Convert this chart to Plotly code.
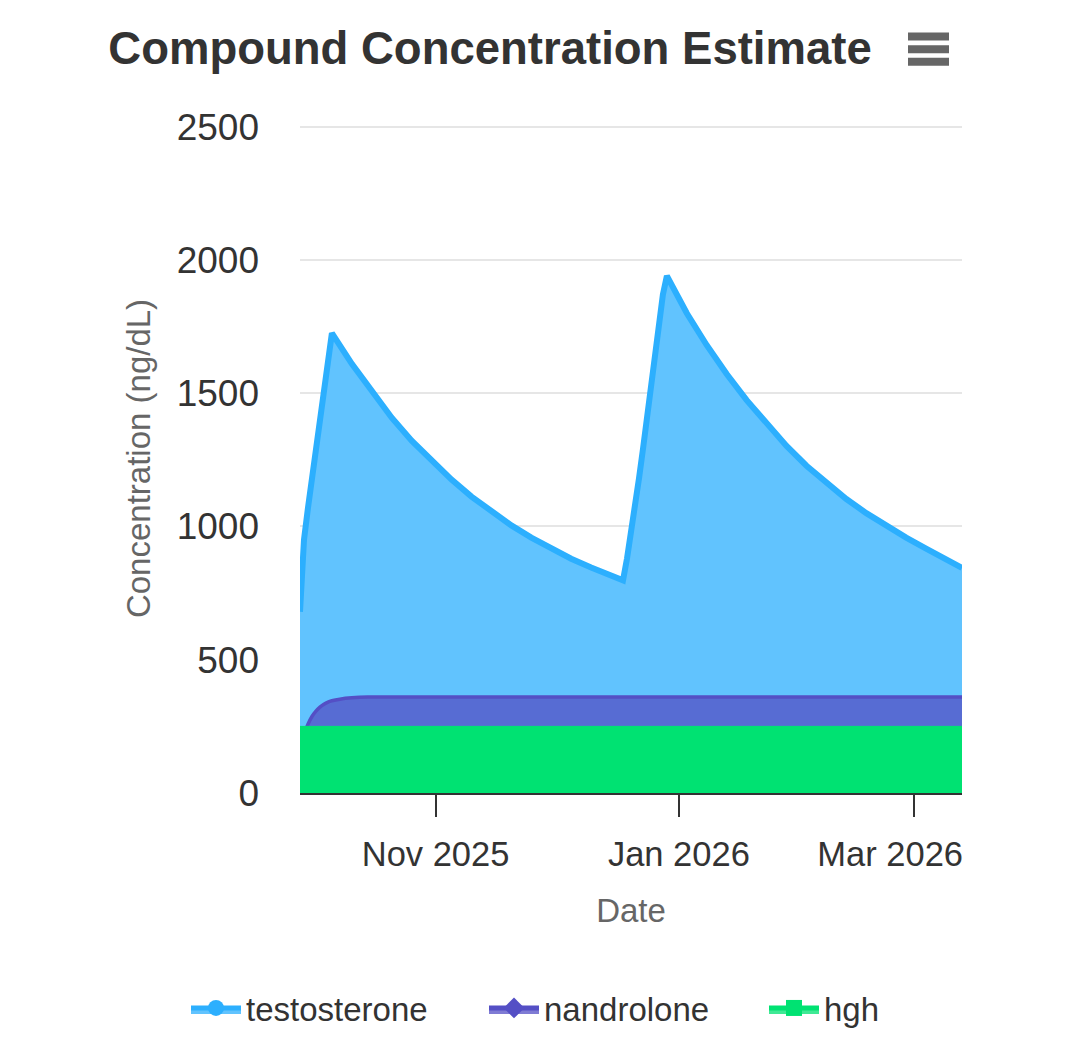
import plotly.graph_objects as go

# ---------------- data ----------------
testo_dates = [
    "2025-09-28", "2025-09-29", "2025-09-30", "2025-10-01", "2025-10-02",
    "2025-10-03", "2025-10-04", "2025-10-05", "2025-10-06", "2025-10-11",
    "2025-10-16", "2025-10-21", "2025-10-26", "2025-10-31", "2025-11-05",
    "2025-11-10", "2025-11-15", "2025-11-20", "2025-11-25", "2025-11-30",
    "2025-12-05", "2025-12-10", "2025-12-15", "2025-12-18", "2025-12-19",
    "2025-12-20", "2025-12-21", "2025-12-22", "2025-12-23", "2025-12-24",
    "2025-12-25", "2025-12-26", "2025-12-27", "2025-12-28", "2025-12-29",
    "2026-01-03", "2026-01-08", "2026-01-13", "2026-01-18", "2026-01-23",
    "2026-01-28", "2026-02-02", "2026-02-07", "2026-02-12", "2026-02-17",
    "2026-02-22", "2026-02-27", "2026-03-04", "2026-03-09", "2026-03-13",
]
testo_values = [
    680, 950, 1070, 1180, 1290,
    1400, 1510, 1615, 1725, 1610,
    1505, 1408, 1322, 1245, 1176,
    1112, 1055, 1004, 958, 916,
    879, 846, 816, 798, 880,
    970, 1070, 1180, 1290, 1410,
    1539, 1660, 1787, 1870, 1940,
    1800, 1680, 1572, 1474, 1384,
    1302, 1228, 1162, 1103, 1050,
    1002, 958, 917, 878, 845,
]

nandro_dates = [
    "2025-09-28", "2025-09-29", "2025-09-30", "2025-10-01", "2025-10-02",
    "2025-10-03", "2025-10-04", "2025-10-05", "2025-10-06", "2025-10-08",
    "2025-10-11", "2025-10-15", "2025-11-15", "2025-12-15", "2026-01-15",
    "2026-02-15", "2026-03-13",
]
nandro_values = [
    0, 215, 258, 287, 307,
    322, 333, 341, 346, 352,
    357, 360, 360, 360, 360,
    360, 360,
]

hgh_dates = ["2025-09-28", "2025-11-15", "2026-01-15", "2026-03-13"]
hgh_values = [250, 250, 250, 250]

series_names = ["testosterone", "nandrolone", "hgh"]
y_ticks = [0, 500, 1000, 1500, 2000, 2500]
x_tick_dates = ["2025-11-01", "2026-01-01", "2026-03-01"]
x_tick_labels = ["Nov 2025", "Jan 2026", "Mar 2026"]

# ---------------- styling ----------------
FONT = "Liberation Sans, Arial, Helvetica, sans-serif"
C_T_LINE, C_T_FILL = "#2caffe", "#61c3fe"
C_N_LINE, C_N_FILL = "#544fc5", "#576cd3"
C_H_LINE, C_H_FILL = "#00e272", "#00e272"
NB = "\u00a0"

fig = go.Figure()

fig.add_trace(go.Scatter(
    x=testo_dates, y=testo_values, name=series_names[0], mode="lines",
    line=dict(color=C_T_LINE, width=6), fill="tozeroy", fillcolor=C_T_FILL,
    showlegend=False, legendgroup="t"))
fig.add_trace(go.Scatter(
    x=nandro_dates, y=nandro_values, name=series_names[1], mode="lines",
    line=dict(color=C_N_LINE, width=3.5, shape="spline", smoothing=0.5),
    fill="tozeroy", fillcolor=C_N_FILL,
    showlegend=False, legendgroup="n"))
fig.add_trace(go.Scatter(
    x=hgh_dates, y=hgh_values, name=series_names[2], mode="lines",
    line=dict(color=C_H_LINE, width=1), fill="tozeroy", fillcolor=C_H_FILL,
    showlegend=False, legendgroup="h"))

# legend-only entries (area + marker style), one legend box per item
legend_ids = ["legend", "legend2", "legend3"]
for i, (lc, fc, sym, grp) in enumerate([
    (C_T_LINE, "rgba(44,175,254,0.75)", "circle", "t"),
    (C_N_LINE, "rgba(84,79,197,0.75)", "diamond", "n"),
    (C_H_LINE, "rgba(0,226,114,0.75)", "square", "h"),
]):
    fig.add_trace(go.Scatter(
        x=[None], y=[None], name=series_names[i], mode="lines+markers",
        line=dict(color=lc, width=5), fill="tozeroy", fillcolor=fc,
        marker=dict(color=lc, symbol=sym, size=18),
        legendgroup=grp, showlegend=True, legend=legend_ids[i]))

# hamburger (context menu) icon, placed in paper coords from pixel positions
Y_TOP = 2510
px_l, px_r, px_b = 300, 962, 793
px_t = 793 - 666 * Y_TOP / 2500
def pxx(v):
    return (v - px_l) / (px_r - px_l)
def pxy(v):
    return (px_b - v) / (px_b - px_t)
shapes = []
for yy in (37, 49.5, 62):
    shapes.append(dict(type="line", xref="paper", yref="paper",
                       x0=pxx(908), x1=pxx(949), y0=pxy(yy), y1=pxy(yy),
                       line=dict(color="#666666", width=8)))

def legend_box(xpx):
    return dict(orientation="h", xref="container", yref="container",
                x=xpx / 1080, xanchor="left", y=1 - 1008 / 1045,
                yanchor="middle",
                font=dict(family=FONT, size=33, color="#333333"),
                itemwidth=50, bgcolor="rgba(0,0,0,0)")

fig.update_layout(
    width=1080, height=1045,
    margin=dict(l=300, r=118, t=round(px_t), b=252),
    paper_bgcolor="white", plot_bgcolor="white",
    font=dict(family=FONT, size=33, color="#333333"),
    title=dict(text="<b>Compound Concentration Estimate</b>",
               font=dict(family=FONT, size=45.5, color="#333333"),
               xref="container", yref="container",
               x=490 / 1080, xanchor="center",
               y=1 - 48 / 1045, yanchor="middle"),
    showlegend=True,
    legend=legend_box(186),
    legend2=legend_box(484),
    legend3=legend_box(764),
    shapes=shapes,
    hovermode="x",
)

fig.update_xaxes(
    type="date",
    range=["2025-09-28", "2026-03-13"],
    tickvals=x_tick_dates,
    ticktext=[x_tick_labels[0], x_tick_labels[1], x_tick_labels[2] + NB * 5],
    ticks="outside", ticklen=22, tickwidth=2, tickcolor="#333333",
    showline=True, linecolor="#333333", linewidth=2,
    showgrid=False, zeroline=False,
    ticklabelstandoff=8,
    tickfont=dict(family=FONT, size=34.5, color="#333333"),
    title=dict(text="Date", font=dict(family=FONT, size=33, color="#666666"),
               standoff=26),
)
fig.update_yaxes(
    range=[0, Y_TOP], tickvals=y_ticks,
    showgrid=True, gridcolor="#e6e6e6", gridwidth=2,
    zeroline=False, showline=False, ticks="",
    ticklabelstandoff=40,
    tickfont=dict(family=FONT, size=37, color="#333333"),
    title=dict(text="Concentration (ng/dL)",
               font=dict(family=FONT, size=33, color="#666666"), standoff=16),
)

fig.write_html("out.html")
